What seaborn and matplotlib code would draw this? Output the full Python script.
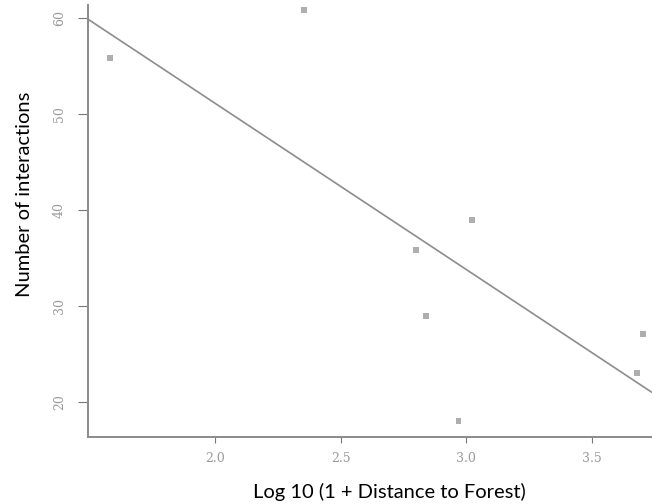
import matplotlib
matplotlib.use("Agg")
import matplotlib.pyplot as plt
import seaborn as sns
import pandas as pd

# values
log_distance = [1.58, 2.355, 2.80, 3.025, 2.84, 2.97, 3.705, 3.68]
interactions = [55.9, 60.9, 35.9, 39.0, 29.0, 18.1, 27.1, 23.1]
x_ticks = [2.0, 2.5, 3.0, 3.5]
y_ticks = [20, 30, 40, 50, 60]

X_LABEL = "Log 10 (1 + Distance to Forest)"
Y_LABEL = "Number of interactions"

df = pd.DataFrame({"dist": log_distance, "n": interactions})

sns.set_theme(style="white")
plt.rcParams["font.family"] = ["Lato", "DejaVu Sans"]

W, H = 652, 504
fig = plt.figure(figsize=(W / 100, H / 100), dpi=100)
ax = fig.add_axes([88 / W, (H - 437) / H, (W - 88) / W, (437 - 5) / H])
ax.set_xlim(1.494, 3.741)
ax.set_ylim(16.4, 61.4)

sns.regplot(data=df, x="dist", y="n", ax=ax, ci=None, truncate=False, marker="s",
            scatter_kws=dict(s=18, color="#9a9a9a", edgecolor="none"),
            line_kws=dict(color="#8c8c8c", lw=1.2))

tick_font = dict(fontsize=9, color="#9a9a9a", family="DejaVu Serif")
ax.set_xticks(x_ticks)
ax.set_xticklabels([f"{v:.1f}" for v in x_ticks], **tick_font)
ax.set_yticks(y_ticks)
ax.set_yticklabels([str(v) for v in y_ticks], rotation=90, va="center", **tick_font)
ax.tick_params(axis="x", direction="out", length=4.5, width=0.8, color="#777777",
               bottom=True, pad=6)
ax.tick_params(axis="y", direction="out", length=7, width=0.8, color="#777777",
               left=True, pad=9)

for side in ("top", "right"):
    ax.spines[side].set_visible(False)
for side in ("left", "bottom"):
    ax.spines[side].set_color("#8a8a8a")
    ax.spines[side].set_linewidth(1.4)

ax.set_xlabel("")
ax.set_ylabel("")
fig.text(389 / W, 1 - 492 / H, X_LABEL, ha="center", va="center", fontsize=14.5, color="black")
fig.text(25 / W, 1 - 194 / H, Y_LABEL, ha="center", va="center", fontsize=14.5,
         color="black", rotation=90)

fig.savefig("out.png", dpi=100)
